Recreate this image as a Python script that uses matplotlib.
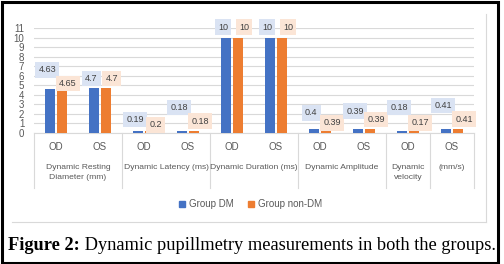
import numpy as np
import matplotlib
matplotlib.use("Agg")
import matplotlib.pyplot as plt
from matplotlib.lines import Line2D
from matplotlib.patches import Rectangle

# Data
eyes = ["OD", "OS", "OD", "OS", "OD", "OS", "OD", "OS", "OD", "OS"]
groups = ["Dynamic Resting\nDiameter (mm)", "Dynamic Latency (ms)", "Dynamic Duration (ms)",
          "Dynamic Amplitude", "Dynamic\nvelocity", "(mm/s)"]
group_spans = [(0, 2), (2, 4), (4, 6), (6, 8), (8, 9), (9, 10)]
dm = [4.63, 4.7, 0.19, 0.18, 10, 10, 0.4, 0.39, 0.18, 0.41]
non_dm = [4.65, 4.7, 0.2, 0.18, 10, 10, 0.39, 0.39, 0.17, 0.41]
series_names = ["Group DM", "Group non-DM"]

# where the data-label boxes sit (y in data units)
dm_label_y = [6.6, 5.7, 1.4, 2.7, 11.1, 11.1, 2.1, 2.3, 2.7, 2.9]
non_dm_label_y = [5.2, 5.7, 0.85, 1.25, 11.1, 11.1, 1.05, 1.4, 1.05, 1.45]

BLUE = "#4472c4"
ORANGE = "#ed7d31"
GRAY = "#595959"

W, H = 504, 264
fig = plt.figure(figsize=(W / 100, H / 100), dpi=100)
plt.rcParams["font.family"] = ["Liberation Sans", "DejaVu Sans"]

# axes placed in pixel terms
x0, x1, ytop, ybot = 34, 474, 28, 133
ax = fig.add_axes([x0 / W, 1 - ybot / H, (x1 - x0) / W, (ybot - ytop) / H])

x = np.arange(len(dm)) + 0.5
bw = 0.227
ax.bar(x - 0.136, dm, bw, color=BLUE, zorder=3)
ax.bar(x + 0.136, non_dm, bw, color=ORANGE, zorder=3)

ax.set_xlim(0, 10)
ax.set_ylim(0, 11)
ax.set_yticks(range(0, 12))
ax.tick_params(axis="y", length=0, pad=7, labelsize=7, labelcolor=GRAY)
ax.tick_params(axis="x", length=0)
ax.set_xticks([])
ax.grid(axis="y", color="#d9d9d9", lw=0.8, zorder=0)
for s in ["left", "right", "top"]:
    ax.spines[s].set_visible(False)
ax.spines["bottom"].set_color("#d9d9d9")

# data labels
for i in range(len(dm)):
    ax.text(x[i] - 0.2, dm_label_y[i], f"{dm[i]:g}", ha="center", va="center", fontsize=6.5,
            color="#404040", clip_on=False, zorder=4,
            bbox=dict(boxstyle="square,pad=0.35", fc="#dae3f3", ec="none"))
    ax.text(x[i] + 0.27, non_dm_label_y[i], f"{non_dm[i]:g}", ha="center", va="center", fontsize=6.5,
            color="#404040", clip_on=False, zorder=4,
            bbox=dict(boxstyle="square,pad=0.35", fc="#fbe5d6", ec="none"))

# category axis labels
tr = ax.get_xaxis_transform()
ph = ybot - ytop
for i, e in enumerate(eyes):
    ax.text(x[i], -(147 - ybot) / ph, e, transform=tr, ha="center", va="center",
            fontsize=7, color=GRAY)
for name, (a, b) in zip(groups, group_spans):
    ax.text((a + b) / 2, -(164 - ybot) / ph, name, transform=tr, ha="center", va="top",
            fontsize=6.1, color=GRAY, linespacing=1.55)
for p in [0, 2, 4, 6, 8, 9, 10]:
    ax.plot([p, p], [0, -(188 - ybot) / ph], transform=tr, color="#d9d9d9", lw=0.8, clip_on=False)

# legend
handles = [Line2D([], [], marker="s", ls="none", color=c, markersize=5) for c in (BLUE, ORANGE)]
fig.legend(handles, series_names, loc="center", bbox_to_anchor=(250 / W, 1 - 204 / H), ncol=2,
           frameon=False, fontsize=7, labelcolor=GRAY, handletextpad=0.35, columnspacing=1.3,
           handlelength=0.8)

# chart box (right and bottom edges) and outer black frame
fig.add_artist(Line2D([486 / W, 486 / W], [1 - 14 / H, 1 - 222 / H], color="#d9d9d9", lw=0.8))
fig.add_artist(Line2D([12 / W, 486 / W], [1 - 222 / H, 1 - 222 / H], color="#d9d9d9", lw=0.8))
fig.add_artist(Rectangle((1.5 / W, 1.5 / H), 496 / W, 261 / H, transform=fig.transFigure,
                         fill=False, ec="black", lw=2.2))

# caption
cap = fig.text(8 / W, 1 - 250 / H, "Figure 2:", fontsize=13.2, fontweight="bold",
               family="Liberation Serif", va="baseline")
ax.annotate(" Dynamic pupillmetry measurements in both the groups.", xy=(1, 0), xycoords=cap,
            va="bottom", fontsize=13.2, family="Liberation Serif", annotation_clip=False)

fig.savefig("out.png", dpi=100)
